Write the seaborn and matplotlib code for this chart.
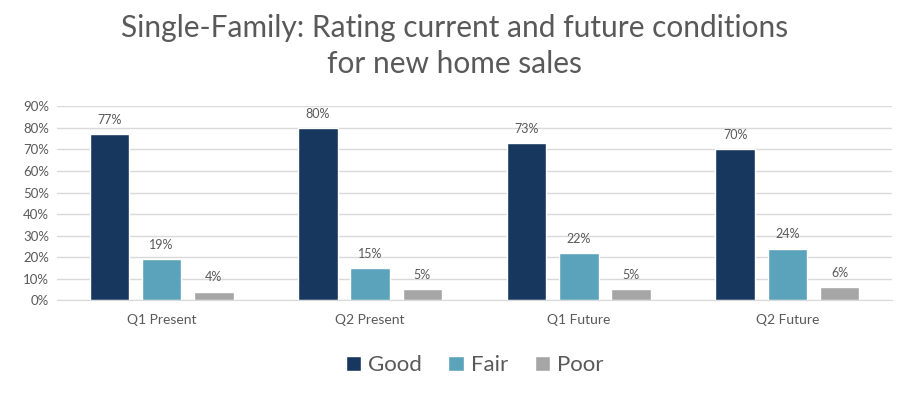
import pandas as pd
import matplotlib.pyplot as plt
import seaborn as sns
from matplotlib.ticker import PercentFormatter

# values
periods = ["Q1 Present", "Q2 Present", "Q1 Future", "Q2 Future"]
ratings = ["Good", "Fair", "Poor"]
good = [77, 80, 73, 70]
fair = [19, 15, 22, 24]
poor = [4, 5, 5, 6]

df = pd.DataFrame({"period": periods * 3,
                   "rating": [r for r in ratings for _ in periods],
                   "value": good + fair + poor})

colors = ["#17375E", "#5BA3BA", "#A6A6A6"]
grey = "#595959"

sns.set_style("white")
plt.rcParams["font.family"] = ["Lato", "DejaVu Sans"]

fig, ax = plt.subplots(figsize=(9.09, 3.94), dpi=100)
fig.subplots_adjust(left=0.063, right=0.981, top=0.73, bottom=0.238)

sns.barplot(data=df, x="period", y="value", hue="rating", palette=colors,
            saturation=1, width=0.75, gap=0.24, ax=ax, legend=True)

for cont in ax.containers:
    ax.bar_label(cont, fmt="%d%%", padding=6, fontsize=9, color=grey)

ax.set_ylim(0, 90)
ax.set_yticks(range(0, 91, 10))
ax.yaxis.set_major_formatter(PercentFormatter(decimals=0))
ax.grid(axis="y", color="#D9D9D9", linewidth=1)
ax.set_axisbelow(True)
for s in ["top", "right", "left"]:
    ax.spines[s].set_visible(False)
ax.spines["bottom"].set_color("#D9D9D9")
ax.tick_params(axis="both", length=0, labelsize=9.5, colors=grey, pad=6)
ax.tick_params(axis="x", pad=10, labelsize=10)
ax.set_xlabel("")
ax.set_ylabel("")

fig.suptitle("Single-Family: Rating current and future conditions\nfor new home sales",
             fontsize=21.5, color=grey, y=0.965, linespacing=1.35)

ax.legend(loc="upper center", bbox_to_anchor=(0.5, -0.18), ncol=3, frameon=False,
          fontsize=16, labelcolor=grey, handlelength=0.7, handleheight=0.7,
          handletextpad=0.3, columnspacing=1.2)

fig.savefig("out.png", dpi=100)
